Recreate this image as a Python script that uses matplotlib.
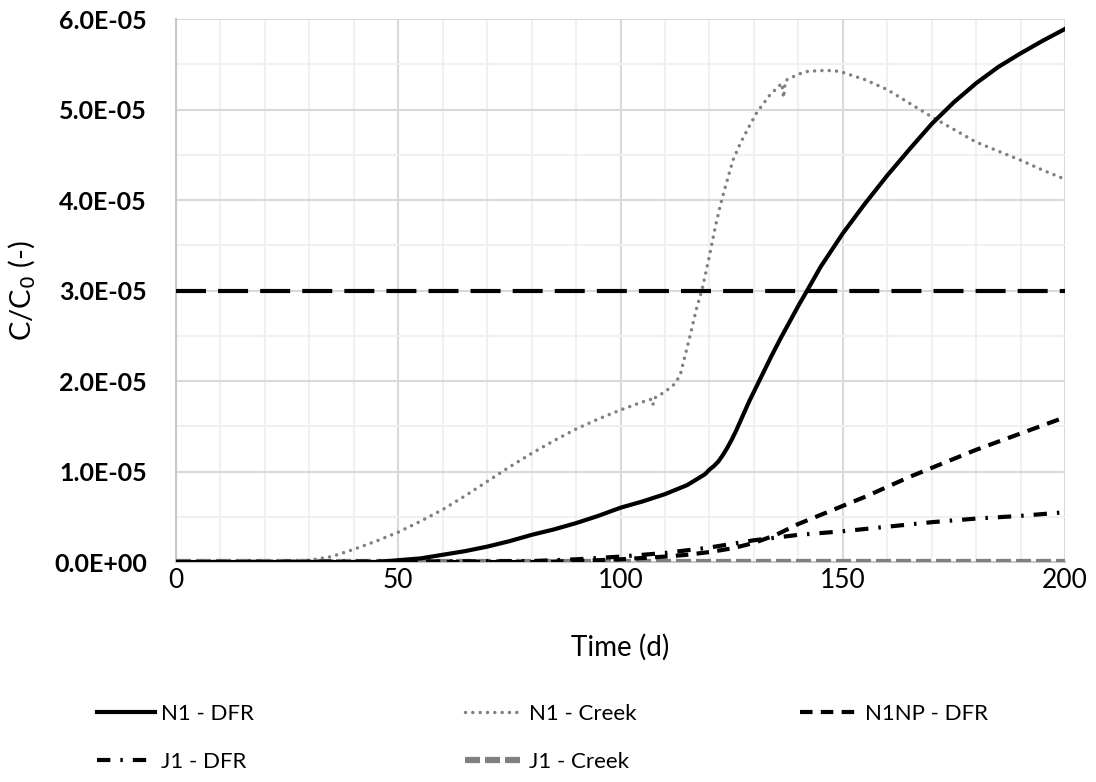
import matplotlib.pyplot as plt
from matplotlib.ticker import MultipleLocator

# Time (d) and C/C0 values (in units of 1e-5)
t_n1_dfr = [0, 45, 50, 55, 60, 65, 70, 75, 80, 85, 90, 95, 100, 105, 110, 115, 119,
            120, 121, 122, 123, 124, 125, 126, 127, 128, 129, 130, 132, 134, 136,
            138, 140, 142, 145, 150, 155, 160, 165, 170, 175, 180, 185, 190, 195, 200]
v_n1_dfr = [0, 0, 0.02, 0.04, 0.08, 0.12, 0.17, 0.23, 0.3, 0.36, 0.43, 0.51, 0.6,
            0.67, 0.75, 0.85, 0.97, 1.02, 1.06, 1.11, 1.18, 1.26, 1.35, 1.45, 1.56,
            1.67, 1.78, 1.88, 2.08, 2.28, 2.47, 2.65, 2.83, 3.0, 3.26, 3.63, 3.96,
            4.27, 4.56, 4.84, 5.08, 5.29, 5.47, 5.62, 5.76, 5.89]

t_n1_creek = [0, 25, 28, 30, 35, 40, 45, 50, 55, 60, 65, 70, 75, 80, 85, 90, 95, 100,
              105, 107, 107.3, 107.6, 110, 112, 113.4, 115.6, 117.2, 118.3, 120,
              121.4, 122.4, 123.5, 125.3, 126.9, 128.8, 130.7, 133.6, 136.3, 136.7,
              137.1, 140, 142, 145, 148, 150, 155, 160, 165, 170, 175, 180, 185,
              190, 195, 200]
v_n1_creek = [0, 0, 0.01, 0.02, 0.06, 0.14, 0.23, 0.33, 0.45, 0.58, 0.73, 0.89, 1.05,
              1.2, 1.34, 1.47, 1.58, 1.68, 1.77, 1.8, 1.74, 1.81, 1.88, 1.96, 2.06,
              2.49, 2.82, 3.0, 3.38, 3.72, 3.93, 4.13, 4.44, 4.62, 4.8, 4.97, 5.16,
              5.29, 5.13, 5.32, 5.39, 5.42, 5.43, 5.43, 5.41, 5.33, 5.22, 5.07, 4.92,
              4.78, 4.64, 4.54, 4.44, 4.33, 4.23]

t_n1np_dfr = [0, 80, 90, 100, 110, 115, 120, 125, 130, 135, 140, 145, 150, 155, 160,
              165, 170, 175, 180, 185, 190, 195, 200]
v_n1np_dfr = [0, 0, 0.01, 0.03, 0.06, 0.08, 0.11, 0.15, 0.21, 0.3, 0.42, 0.52, 0.62,
              0.72, 0.83, 0.94, 1.04, 1.14, 1.24, 1.33, 1.42, 1.51, 1.6]

t_j1_dfr = [0, 80, 90, 100, 110, 115, 120, 125, 130, 135, 140, 145, 150, 160, 170,
            180, 190, 200]
v_j1_dfr = [0, 0.01, 0.03, 0.06, 0.1, 0.13, 0.16, 0.2, 0.24, 0.27, 0.3, 0.32, 0.34,
            0.39, 0.44, 0.48, 0.51, 0.55]

t_j1_creek = [0, 200]
v_j1_creek = [0, 0]

limit_value = 3.0

plt.rcParams['font.family'] = ['Lato', 'DejaVu Sans']

fig = plt.figure(figsize=(10.96, 7.82), dpi=100)
ax = fig.add_axes([0.1606, 0.2813, 0.8111, 0.6944])

sc = 1e-5
l_n1_dfr, = ax.plot(t_n1_dfr, [v * sc for v in v_n1_dfr], color='black', lw=3,
                    label='N1 - DFR', zorder=5)
l_n1_creek, = ax.plot(t_n1_creek, [v * sc for v in v_n1_creek], color='#808080', lw=2.5,
                      linestyle=(0, (0.01, 2.1)), dash_capstyle='round',
                      label='N1 - Creek', zorder=4)
l_n1np, = ax.plot(t_n1np_dfr, [v * sc for v in v_n1np_dfr], color='black', lw=3,
                  linestyle=(0, (3, 2)), label='N1NP - DFR', zorder=4)
l_j1_dfr, = ax.plot(t_j1_dfr, [v * sc for v in v_j1_dfr], color='black', lw=3,
                    linestyle=(0, (3.2, 2.4, 0.6, 2.4)), label='J1 - DFR', zorder=4)
l_j1_creek, = ax.plot(t_j1_creek, [v * sc for v in v_j1_creek], color='#808080', lw=4.5,
                      linestyle=(0, (2.4, 0.8)), label='J1 - Creek', zorder=3)
ax.plot([0, 200], [limit_value * sc] * 2, color='black', lw=3,
        linestyle=(0, (7.2, 2.9)), zorder=3)

ax.set_xlim(0, 200)
ax.set_ylim(0, 6e-5)
ax.xaxis.set_major_locator(MultipleLocator(50))
ax.xaxis.set_minor_locator(MultipleLocator(10))
ax.yaxis.set_major_locator(MultipleLocator(1e-5))
ax.yaxis.set_minor_locator(MultipleLocator(0.5e-5))
ax.yaxis.set_major_formatter(lambda v, p: f"{v:.1E}")

ax.grid(which='major', color='#d9d9d9', lw=1.5)
ax.grid(which='minor', color='#f0f0f0', lw=1.5)
ax.set_axisbelow(True)
ax.tick_params(which='both', length=0)
ax.tick_params(axis='y', labelsize=18, pad=21)
ax.tick_params(axis='x', labelsize=19, pad=4)
for lab in ax.get_yticklabels():
    lab.set_fontweight('bold')
for s in ['top', 'right']:
    ax.spines[s].set_visible(False)
for s in ['left', 'bottom']:
    ax.spines[s].set_color('#c8c8c8')
    ax.spines[s].set_linewidth(1.5)

ax.set_xlabel('Time (d)', fontsize=20)
ax.set_ylabel('C/C$_0$ (-)', fontsize=21)
ax.xaxis.set_label_coords(0.5, -0.133)
ax.yaxis.set_label_coords(-0.155, 0.5)

# legend laid out as three columns, filled row by row like the original
legend_cols = [([l_n1_dfr, l_j1_dfr], 0.0885),
               ([l_n1_creek, l_j1_creek], 0.4243),
               ([l_n1np], 0.730)]
for items, x0 in legend_cols:
    fig.legend(handles=items, loc='upper left', bbox_to_anchor=(x0, 0.1000),
               frameon=False, fontsize=16, handlelength=2.6, handletextpad=0.3,
               labelspacing=1.25, borderpad=0, borderaxespad=0)

fig.savefig('out.png', dpi=100)
